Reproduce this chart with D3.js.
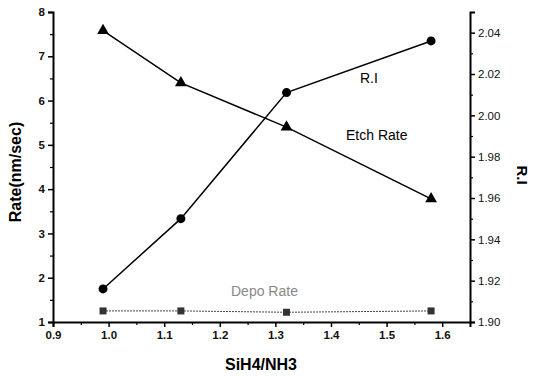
<!DOCTYPE html>
<html>
<head>
<meta charset="utf-8">
<script src="https://cdn.jsdelivr.net/npm/d3@7"></script>
<style>
  body { margin: 0; background: #fff; }
  svg { display: block; font-family: "Liberation Sans", Arial, sans-serif; }
</style>
</head>
<body>
<div id="chart"></div>
<script>
// SiH4/NH3 ratio on x
var ratios = [0.99, 1.13, 1.32, 1.58];
var etchRate = [7.58, 6.40, 5.40, 3.78];
var depoRate = [1.25, 1.25, 1.22, 1.25];
var refIndex = [1.916, 1.950, 2.011, 2.036];

var xTicks = [0.9, 1.0, 1.1, 1.2, 1.3, 1.4, 1.5, 1.6];
var yTicks = [1, 2, 3, 4, 5, 6, 7, 8];
var riTicks = [1.90, 1.92, 1.94, 1.96, 1.98, 2.00, 2.02, 2.04];

var width = 533,
	height = 376,
	plotLeft = 53, plotRight = 470, plotTop = 12, plotBottom = 322;

var svg = d3.select("#chart").append("svg")
	.attr("width", width)
	.attr("height", height);

var x = d3.scaleLinear().domain([0.9, 1.65]).range([plotLeft, plotRight]);
var y = d3.scaleLinear().domain([1, 8]).range([plotBottom, plotTop]);
var yRI = d3.scaleLinear().domain([1.90, 2.05]).range([plotBottom, plotTop]);

var minorX = d3.range(0.95, 1.65, 0.1);
var minorY = d3.range(1.5, 8, 1);
var minorRI = d3.range(1.91, 2.05, 0.02);

function styleAxis(g) {
	g.selectAll(".domain").attr("stroke-width", 2);
	g.selectAll(".tick line").attr("stroke-width", 1.5);
	g.selectAll(".tick text").attr("font-size", 11.5).attr("font-weight", "bold").attr("fill", "#111");
}
function minorAxis(g) {
	g.select(".domain").remove();
	g.selectAll("line").attr("stroke-width", 1.2);
}

svg.append("g")
	.attr("transform", "translate(0," + plotBottom + ")")
	.call(d3.axisBottom(x).tickValues(xTicks).tickFormat(d3.format(".1f")).tickSizeOuter(0).tickSize(5).tickPadding(4))
	.call(styleAxis);
svg.append("g")
	.attr("transform", "translate(0," + plotBottom + ")")
	.call(d3.axisBottom(x).tickValues(minorX).tickFormat("").tickSize(3))
	.call(minorAxis);

svg.append("g")
	.attr("transform", "translate(" + plotLeft + ",0)")
	.call(d3.axisLeft(y).tickValues(yTicks).tickFormat(d3.format("d")).tickSizeOuter(0).tickSize(5).tickPadding(3))
	.call(styleAxis);
svg.append("g")
	.attr("transform", "translate(" + plotLeft + ",0)")
	.call(d3.axisLeft(y).tickValues(minorY).tickFormat("").tickSize(3))
	.call(minorAxis);

var gr = svg.append("g")
	.attr("transform", "translate(" + plotRight + ",0)")
	.call(d3.axisRight(yRI).tickValues(riTicks).tickFormat(d3.format(".2f")).tickSizeOuter(0).tickSize(5).tickPadding(3))
	.call(styleAxis);
gr.selectAll(".tick text").attr("font-weight", "normal");
svg.append("g")
	.attr("transform", "translate(" + plotRight + ",0)")
	.call(d3.axisRight(yRI).tickValues(minorRI).tickFormat("").tickSize(3))
	.call(minorAxis);

// axis titles
svg.append("text")
	.attr("transform", "translate(21,172) rotate(-90)")
	.attr("text-anchor", "middle")
	.attr("font-size", 16)
	.attr("font-weight", "bold")
	.text("Rate(nm/sec)");

svg.append("text")
	.attr("x", 261)
	.attr("y", 370)
	.attr("text-anchor", "middle")
	.attr("font-size", 16)
	.attr("font-weight", "bold")
	.text("SiH4/NH3");

svg.append("text")
	.attr("transform", "translate(517,175) rotate(90)")
	.attr("text-anchor", "middle")
	.attr("font-size", 15)
	.attr("font-weight", "bold")
	.text("R.I");

// series
var etchPts = ratios.map(function(r, i) { return [x(r), y(etchRate[i])]; });
var depoPts = ratios.map(function(r, i) { return [x(r), y(depoRate[i])]; });
var riPts = ratios.map(function(r, i) { return [x(r), yRI(refIndex[i])]; });

var line = d3.line();

svg.append("path")
	.attr("d", line(depoPts))
	.attr("fill", "none")
	.attr("stroke", "#444")
	.attr("stroke-width", 1)
	.attr("stroke-dasharray", "2,1");

svg.selectAll(".depo")
	.data(depoPts)
	.enter().append("rect")
	.attr("x", function(d) { return d[0] - 3.5; })
	.attr("y", function(d) { return d[1] - 3.5; })
	.attr("width", 7)
	.attr("height", 7)
	.attr("fill", "#333");

svg.append("path")
	.attr("d", line(etchPts))
	.attr("fill", "none")
	.attr("stroke", "#000")
	.attr("stroke-width", 1.5);

svg.selectAll(".etch")
	.data(etchPts)
	.enter().append("path")
	.attr("transform", function(d) { return "translate(" + d[0] + "," + d[1] + ")"; })
	.attr("d", d3.symbol().type(d3.symbolTriangle).size(60))
	.attr("fill", "#000");

svg.append("path")
	.attr("d", line(riPts))
	.attr("fill", "none")
	.attr("stroke", "#000")
	.attr("stroke-width", 1.5);

svg.selectAll(".ri")
	.data(riPts)
	.enter().append("circle")
	.attr("cx", function(d) { return d[0]; })
	.attr("cy", function(d) { return d[1]; })
	.attr("r", 4.5)
	.attr("fill", "#000");

// series labels
svg.append("text").attr("x", 360).attr("y", 83).attr("font-size", 14).text("R.I");
svg.append("text").attr("x", 346).attr("y", 140).attr("font-size", 14).text("Etch Rate");
svg.append("text").attr("x", 231).attr("y", 296).attr("font-size", 14).attr("fill", "#888").text("Depo Rate");
</script>
</body>
</html>
